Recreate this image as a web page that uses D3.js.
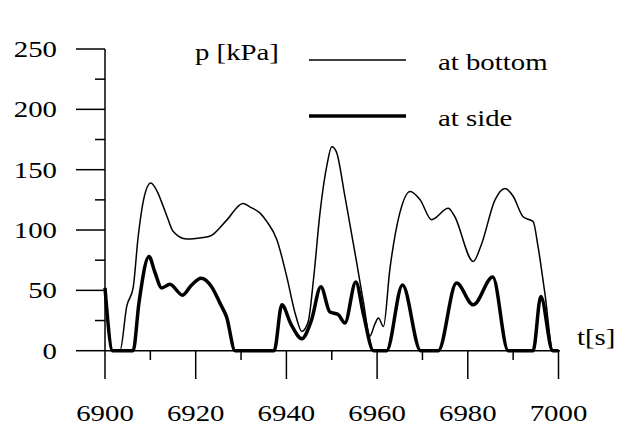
<!DOCTYPE html>
<html>
<head>
<meta charset="utf-8">
<script src="https://cdn.jsdelivr.net/npm/d3@7"></script>
</head>
<body style="margin:0">
<svg id="chart" width="625" height="430"></svg>
<script>
// pressure at bottom [t, kPa]
var bottomSeries = [
  [6901.7, 0], [6903.3, 0], [6904.8, 37], [6906.2, 52], [6907.3, 94], [6908.5, 125],
  [6910.1, 139], [6911.5, 132], [6912.8, 120], [6913.8, 110], [6915, 99], [6918, 92.5],
  [6920, 93], [6923.2, 95], [6926.8, 108], [6930.4, 122], [6932, 119], [6934.2, 114],
  [6935.7, 107], [6937.9, 92], [6940.1, 61], [6942, 30], [6943.4, 16], [6944.8, 24],
  [6946, 60], [6947.4, 114], [6949, 155], [6950, 169], [6951, 165], [6952.9, 128],
  [6955.5, 73], [6957, 40], [6958.4, 12], [6959.5, 22], [6960.3, 27], [6961.4, 20],
  [6962.8, 67], [6965, 114], [6967.3, 132], [6969.5, 125], [6972, 108.6], [6975.7, 118],
  [6977, 112], [6981.2, 74], [6983, 88], [6986, 125], [6988.2, 134.5], [6990, 128],
  [6992.2, 111], [6994.4, 107], [6995.5, 86], [6997, 47.5], [6998.8, 0], [7000, 0]
];
// pressure at side [t, kPa]
var sideSeries = [
  [6900, 52], [6901.7, 0], [6906.2, 0], [6907.5, 40], [6909.7, 78], [6911, 65],
  [6912.5, 52], [6914.3, 55], [6917.1, 46], [6919, 54], [6921.2, 60], [6923.5, 53],
  [6925.4, 39], [6926.8, 28], [6928.7, 0], [6937.3, 0], [6939, 38], [6941, 22],
  [6943.4, 10], [6945.5, 25], [6947.6, 53], [6949.6, 32], [6951.4, 30], [6952.9, 23],
  [6955.3, 57], [6957, 30], [6959.2, 0], [6962.1, 0], [6965.6, 54.5], [6969.6, 0],
  [6973.5, 0], [6977.5, 56], [6981.2, 38], [6985.5, 61], [6988.9, 0], [6994.4, 0],
  [6996.1, 45], [6998.7, 0], [7000, 0]
];
var yMajor = [0, 50, 100, 150, 200, 250];
var yMinor = [25, 75, 125, 175, 225];
var xMajor = [6900, 6920, 6940, 6960, 6980, 7000];
var xMinor = [6910, 6930, 6950, 6970, 6990];
var legendNames = ["at bottom", "at side"];

var svg = d3.select("#chart");

var x = d3.scaleLinear().domain([6900, 7000]).range([105, 558.5]);
var y = d3.scaleLinear().domain([0, 250]).range([350.7, 49]);

// text, drawn first; the original type is a stretched Times, so widen a bit
function label(t, px, py, anchor) {
  var g = svg.append("g")
    .attr("transform", "translate(" + px + "," + py + ") scale(1.2,1)");
  g.append("text")
    .style("font-family", '"Liberation Serif"')
    .style("font-size", "24px")
    .style("text-anchor", anchor || "start")
    .text(String(t));
}

yMajor.forEach(function(d) { label(d, 57, y(d) + 8, "end"); });
xMajor.forEach(function(d) { label(d, x(d), 421, "middle"); });
label("p [kPa]", 195, 60);
label("t[s]", 577, 345);
legendNames.forEach(function(n, i) { label(n, 438, 70 + i * 56); });

// axes
var ax = svg.append("g").attr("stroke", "#000").attr("stroke-width", 1.5);
ax.append("line").attr("x1", x(6900)).attr("x2", x(6900)).attr("y1", y(250)).attr("y2", y(0));
ax.append("line").attr("x1", x(6900)).attr("x2", 560).attr("y1", y(0)).attr("y2", y(0));

ax.selectAll(".ym").data(yMajor).enter().append("line")
  .attr("x1", 76).attr("x2", x(6900)).attr("y1", d => y(d)).attr("y2", d => y(d));
ax.selectAll(".yn").data(yMinor).enter().append("line")
  .attr("x1", 95).attr("x2", x(6900)).attr("y1", d => y(d)).attr("y2", d => y(d));
ax.selectAll(".xm").data(xMajor).enter().append("line")
  .attr("x1", d => x(d)).attr("x2", d => x(d)).attr("y1", y(0)).attr("y2", 379);
ax.selectAll(".xn").data(xMinor).enter().append("line")
  .attr("x1", d => x(d)).attr("x2", d => x(d)).attr("y1", y(0)).attr("y2", 360);

// lines
var line = d3.line()
  .x(d => x(d[0]))
  .y(d => y(d[1]))
  .curve(d3.curveMonotoneX);

svg.append("path").datum(bottomSeries)
  .attr("fill", "none").attr("stroke", "#000").attr("stroke-width", 1.5)
  .attr("d", line);
svg.append("path").datum(sideSeries)
  .attr("fill", "none").attr("stroke", "#000").attr("stroke-width", 3.5)
  .attr("stroke-linejoin", "round")
  .attr("d", line);

// legend swatches
var widths = [1.5, 3.5];
legendNames.forEach(function(n, i) {
  var ly = 60 + i * 56;
  svg.append("line").attr("x1", 309).attr("x2", 406).attr("y1", ly).attr("y2", ly)
    .attr("stroke", "#000").attr("stroke-width", widths[i]);
});
</script>
</body>
</html>
